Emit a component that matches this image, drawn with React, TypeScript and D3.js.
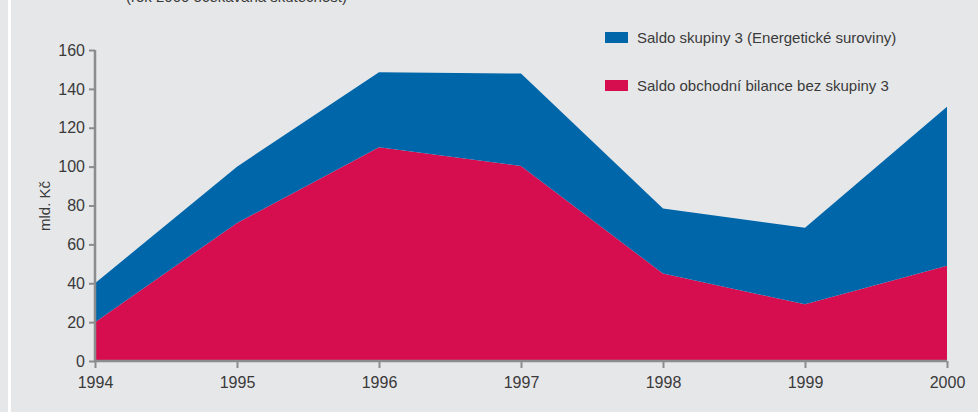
import React, { useEffect, useRef } from 'react';
import * as d3 from 'd3';

const years = [1994, 1995, 1996, 1997, 1998, 1999, 2000];
// Saldo obchodní bilance bez skupiny 3 (bottom layer)
const balanceWithout3 = [20, 71, 110, 100.3, 45, 29.2, 49];
// Saldo skupiny 3 (Energetické suroviny), stacked on top
const energyGroup = [20, 29, 38.6, 47.6, 33.5, 39.3, 81.8];
const yTicks = [0, 20, 40, 60, 80, 100, 120, 140, 160];
const seriesNames = ['Saldo obchodní bilance bez skupiny 3', 'Saldo skupiny 3 (Energetické suroviny)'];
const legendOrder = ['Saldo skupiny 3 (Energetické suroviny)', 'Saldo obchodní bilance bez skupiny 3'];

const W = 978;
const H = 412;
const FONT = '"Liberation Sans", Arial, sans-serif';

const App = () => {
    const ref = useRef<SVGSVGElement>(null);

    useEffect(() => {
        const svgEl = d3.select(ref.current);
        svgEl.selectAll('*').remove();

        const svg = svgEl.attr('width', W).attr('height', H);

        const colors: Record<string, string> = {
            [seriesNames[0]]: '#d60e50',
            [seriesNames[1]]: '#0066aa',
        };
        const textColor = '#3a3a3a';
        const axisColor = '#8c8c8c';

        svg.append('rect').attr('width', W).attr('height', H).attr('fill', '#e6e7e9');
        svg.append('rect').attr('x', 8).attr('y', 0).attr('width', 3).attr('height', H).attr('fill', '#ffffff');

        // subtitle, cut off at the top edge as in the source
        svg.append('text')
            .attr('x', 126)
            .attr('y', 2)
            .attr('font-family', FONT)
            .attr('font-size', 15)
            .attr('fill', textColor)
            .text('(rok 2000 očekávaná skutečnost)');

        const x = d3.scaleLinear().domain([1994, 2000]).range([95, 947]);
        const y = d3.scaleLinear().domain([0, 160]).range([361, 50]);

        const table = years.map((yr, i) => ({
            year: yr,
            [seriesNames[0]]: balanceWithout3[i],
            [seriesNames[1]]: energyGroup[i],
        }));
        const stack = d3.stack<any>().keys(seriesNames);
        const layers = stack(table);

        const area = d3.area<any>()
            .x(d => x(d.data.year))
            .y0(d => y(d[0]))
            .y1(d => y(d[1]));

        svg.append('g')
            .selectAll('path')
            .data(layers)
            .enter().append('path')
            .attr('d', area)
            .attr('fill', d => colors[d.key]);

        // y axis
        const yAxis = svg.append('g')
            .attr('transform', `translate(${x(1994)},0)`)
            .call(d3.axisLeft(y).tickValues(yTicks).tickSize(6).tickPadding(4));
        yAxis.select('.domain').attr('stroke', axisColor).attr('stroke-width', 2.5).attr('d', `M0,${y(0)}V${y(160)}`);
        yAxis.selectAll('.tick line').attr('stroke', axisColor).attr('stroke-width', 2);
        yAxis.selectAll('.tick text')
            .attr('fill', textColor)
            .attr('font-family', FONT)
            .attr('font-size', 16);

        // x axis
        const xAxis = svg.append('g')
            .attr('transform', `translate(0,${y(0)})`)
            .call(d3.axisBottom(x).tickValues(years).tickFormat(d3.format('d')).tickSize(7).tickPadding(9));
        xAxis.select('.domain').attr('stroke', axisColor).attr('stroke-width', 2.5).attr('d', `M${x(1994)},0H${x(2000)}`);
        xAxis.selectAll('.tick line').attr('stroke', axisColor).attr('stroke-width', 2);
        xAxis.selectAll('.tick text')
            .attr('fill', textColor)
            .attr('font-family', FONT)
            .attr('font-size', 16);

        svg.append('text')
            .attr('transform', `translate(50,206) rotate(-90)`)
            .attr('text-anchor', 'middle')
            .attr('font-family', FONT)
            .attr('font-size', 15)
            .attr('fill', textColor)
            .text('mld. Kč');

        // legend
        const legend = svg.append('g').attr('transform', 'translate(605,32)');
        legendOrder.forEach((name, i) => {
            const g = legend.append('g').attr('transform', `translate(0,${i * 48})`);
            g.append('rect').attr('width', 23).attr('height', 11).attr('fill', colors[name]);
            g.append('text')
                .attr('x', 32)
                .attr('y', 11)
                .attr('font-family', FONT)
                .attr('font-size', 15)
                .attr('fill', textColor)
                .text(name);
        });
    }, []);

    return (
        <div style={{ position: 'absolute', left: 0, top: 0 }}>
            <svg ref={ref} style={{ display: 'block' }} />
        </div>
    );
};

export default App;
